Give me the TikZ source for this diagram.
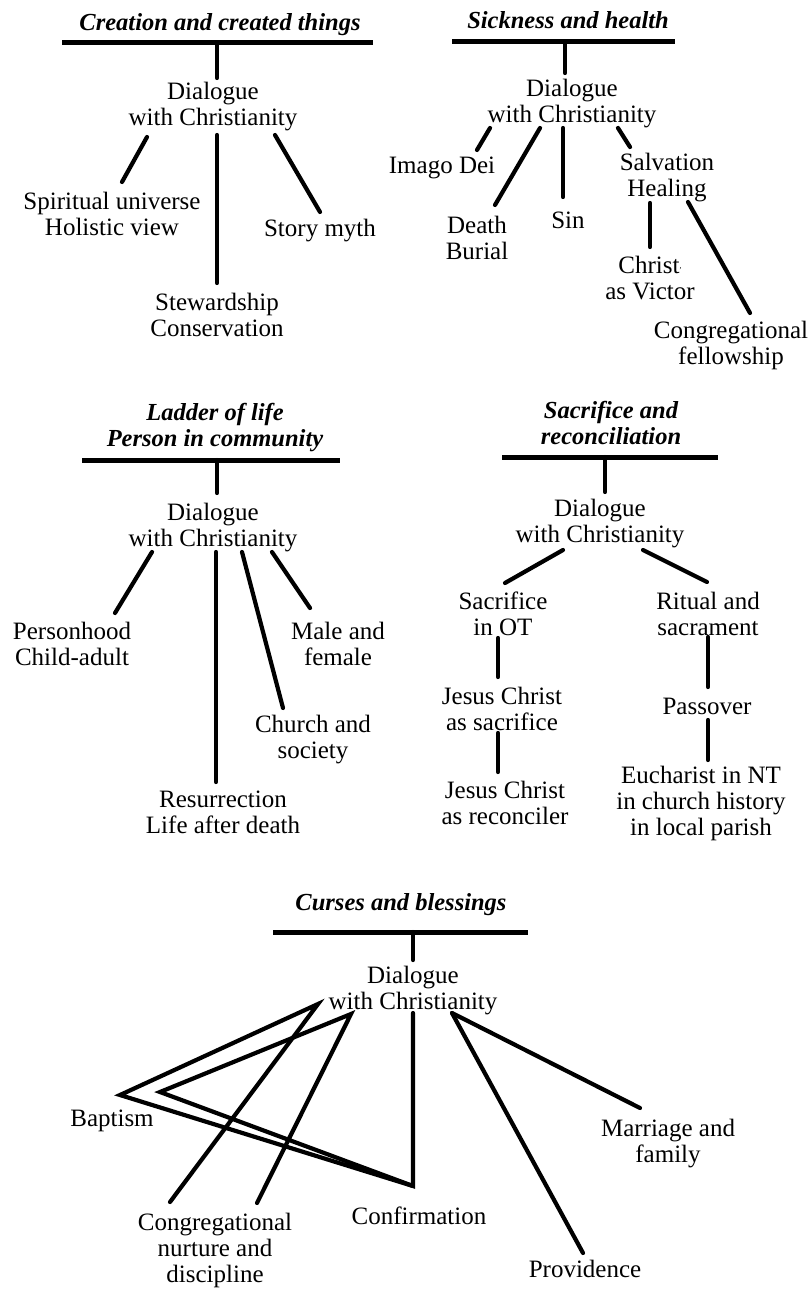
\documentclass[tikz,border=0pt]{standalone}
\usepackage{fontspec}
\setmainfont{Liberation Serif}
\begin{document}
\begin{tikzpicture}[x=1pt,y=-1pt,
  lbl/.style={font=\fontsize{25}{26}\selectfont, align=center, inner sep=0pt},
  ttl/.style={font=\fontsize{24.5}{26}\selectfont\bfseries\itshape, align=center, inner sep=0pt},
  ln/.style={line width=4.2pt, line cap=round, line join=miter},
  barline/.style={line width=5pt}]
\fill[white] (0,0) rectangle (810,1289);
\useasboundingbox (0,0) rectangle (810,1289);

% ---------- Section 1 ----------
\node[ttl] (t1) at (220,25) {Creation and created things};
\coordinate (b1l) at (62,43); \coordinate (b1r) at (373,43);
\coordinate (b1t) at (217,43);
\node[lbl] (d1) at (213,106.5) {Dialogue\\with Christianity};
\node[lbl] (sp) at (112,213.5) {Spiritual universe\\Holistic view};
\node[lbl] (sm) at (320,231) {Story myth};
\node[lbl] (sw) at (217,314.5) {Stewardship\\Conservation};
\draw[barline] (b1l) -- (b1r);
\coordinate (d1t) at (217,78);
\draw[ln] (b1t) -- (d1t);
\coordinate (a1) at (147,137); \coordinate (a2) at (122,182);
\coordinate (a3) at (217,135); \coordinate (a4) at (217,283);
\coordinate (a5) at (275,135); \coordinate (a6) at (320,212);
\draw[ln] (a1) -- (a2);
\draw[ln] (a3) -- (a4);
\draw[ln] (a5) -- (a6);

% ---------- Section 2 ----------
\node[ttl] (t2) at (568,20) {Sickness and health};
\coordinate (b2l) at (452,42); \coordinate (b2r) at (675,42);
\coordinate (b2t) at (565,42); \coordinate (d2t) at (565,73);
\node[lbl] (d2) at (572,103.5) {Dialogue\\with Christianity};
\node[lbl] (im) at (442,168) {Imago Dei};
\node[lbl] (db) at (477,238) {Death\\Burial};
\node[lbl] (sn) at (568,220) {Sin};
\node[lbl] (sh) at (667,177.5) {Salvation\\Healing};
\node[lbl] (cv) at (650,278.5) {Christ\raisebox{0.45ex}{\footnotesize,}\\as Victor};
\node[lbl] (cf) at (731,345.5) {Congregational\\fellowship};
\draw[barline] (b2l) -- (b2r);
\draw[ln] (b2t) -- (d2t);
\coordinate (e1) at (490,128); \coordinate (e2) at (477,150);
\coordinate (e3) at (540,128); \coordinate (e4) at (495,205);
\coordinate (e5) at (563,128); \coordinate (e6) at (563,197);
\coordinate (e7) at (618,128); \coordinate (e8) at (630,147);
\coordinate (e9) at (650,203); \coordinate (e10) at (650,247);
\coordinate (e11) at (688,202); \coordinate (e12) at (750,313);
\draw[ln] (e1) -- (e2);
\draw[ln] (e3) -- (e4);
\draw[ln] (e5) -- (e6);
\draw[ln] (e7) -- (e8);
\draw[ln] (e9) -- (e10);
\draw[ln] (e11) -- (e12);

% ---------- Section 3 ----------
\node[ttl] (t3) at (215,427.5) {Ladder of life\\Person in community};
\coordinate (b3l) at (82,460); \coordinate (b3r) at (340,460);
\coordinate (b3t) at (217,460); \coordinate (d3t) at (217,493);
\node[lbl] (d3) at (213,527.5) {Dialogue\\with Christianity};
\node[lbl] (ph) at (72,643.5) {Personhood\\Child-adult};
\node[lbl] (mf) at (338,643.5) {Male and\\female};
\node[lbl] (cs) at (313,739.5) {Church and\\society};
\node[lbl] (rs) at (223,812.5) {Resurrection\\Life after death};
\draw[barline] (b3l) -- (b3r);
\draw[ln] (b3t) -- (d3t);
\coordinate (f1) at (152,552); \coordinate (f2) at (115,613);
\coordinate (f3) at (216,552); \coordinate (f4) at (216,782);
\coordinate (f5) at (242,552); \coordinate (f6) at (283,708);
\coordinate (f7) at (272,552); \coordinate (f8) at (310,608);
\draw[ln] (f1) -- (f2);
\draw[ln] (f3) -- (f4);
\draw[ln] (f5) -- (f6);
\draw[ln] (f7) -- (f8);

% ---------- Section 4 ----------
\node[ttl] (t4) at (611,423) {Sacrifice and\\reconciliation};
\coordinate (b4l) at (502,457); \coordinate (b4r) at (718,457);
\coordinate (b4t) at (605,457); \coordinate (d4t) at (605,492);
\node[lbl] (d4) at (600,523.5) {Dialogue\\with Christianity};
\node[lbl] (so) at (503,613.5) {Sacrifice\\in OT};
\node[lbl] (rt) at (708,613.5) {Ritual and\\sacrament};
\node[lbl] (js) at (502,708.5) {Jesus Christ\\as sacrifice};
\node[lbl] (jr) at (505,802.5) {Jesus Christ\\as reconciler};
\node[lbl] (pv) at (707,706) {Passover};
\node[lbl] (eu) at (701,803) {Eucharist in NT\\in church history\\in local parish};
\draw[barline] (b4l) -- (b4r);
\draw[ln] (b4t) -- (d4t);
\coordinate (g1) at (563,550); \coordinate (g2) at (505,583);
\coordinate (g3) at (643,550); \coordinate (g4) at (707,582);
\coordinate (g5) at (498,638); \coordinate (g6) at (498,677);
\coordinate (g7) at (498,733); \coordinate (g8) at (498,772);
\coordinate (g9) at (708,637); \coordinate (g10) at (708,687);
\coordinate (g11) at (708,720); \coordinate (g12) at (708,760);
\draw[ln] (g1) -- (g2);
\draw[ln] (g3) -- (g4);
\draw[ln] (g5) -- (g6);
\draw[ln] (g7) -- (g8);
\draw[ln] (g9) -- (g10);
\draw[ln] (g11) -- (g12);

% ---------- Section 5 ----------
\node[ttl] (t5) at (401,905) {Curses and blessings};
\coordinate (b5l) at (273,932); \coordinate (b5r) at (528,932);
\coordinate (b5t) at (413,932); \coordinate (d5t) at (413,960);
\node[lbl] (d5) at (413,990.5) {Dialogue\\with Christianity};
\node[lbl] (bp) at (112,1121) {Baptism};
\node[lbl] (cn) at (215,1250) {Congregational\\nurture and\\discipline};
\node[lbl] (co) at (419,1216) {Confirmation};
\node[lbl] (pr) at (585,1269) {Providence};
\node[lbl] (mr) at (668,1143.5) {Marriage and\\family};
\draw[barline] (b5l) -- (b5r);
\draw[ln] (b5t) -- (d5t);
\coordinate (h1) at (318,1004); \coordinate (h2) at (120,1095);
\coordinate (h3) at (413,1186); \coordinate (h4) at (413,1013);
\coordinate (h5) at (351,1014); \coordinate (h6) at (160,1092);
\coordinate (h7) at (170,1202); \coordinate (h8) at (257,1203);
\coordinate (h9) at (452,1013); \coordinate (h10) at (583,1253);
\coordinate (h11) at (640,1108);
\draw[ln] (h7) -- (h1) -- (h2) -- (h3) -- (h4);
\draw[ln] (h8) -- (h5) -- (h6) -- (h3);
\draw[ln] (h9) -- (h10);
\draw[ln] (h9) -- (h11);
\end{tikzpicture}
\end{document}
